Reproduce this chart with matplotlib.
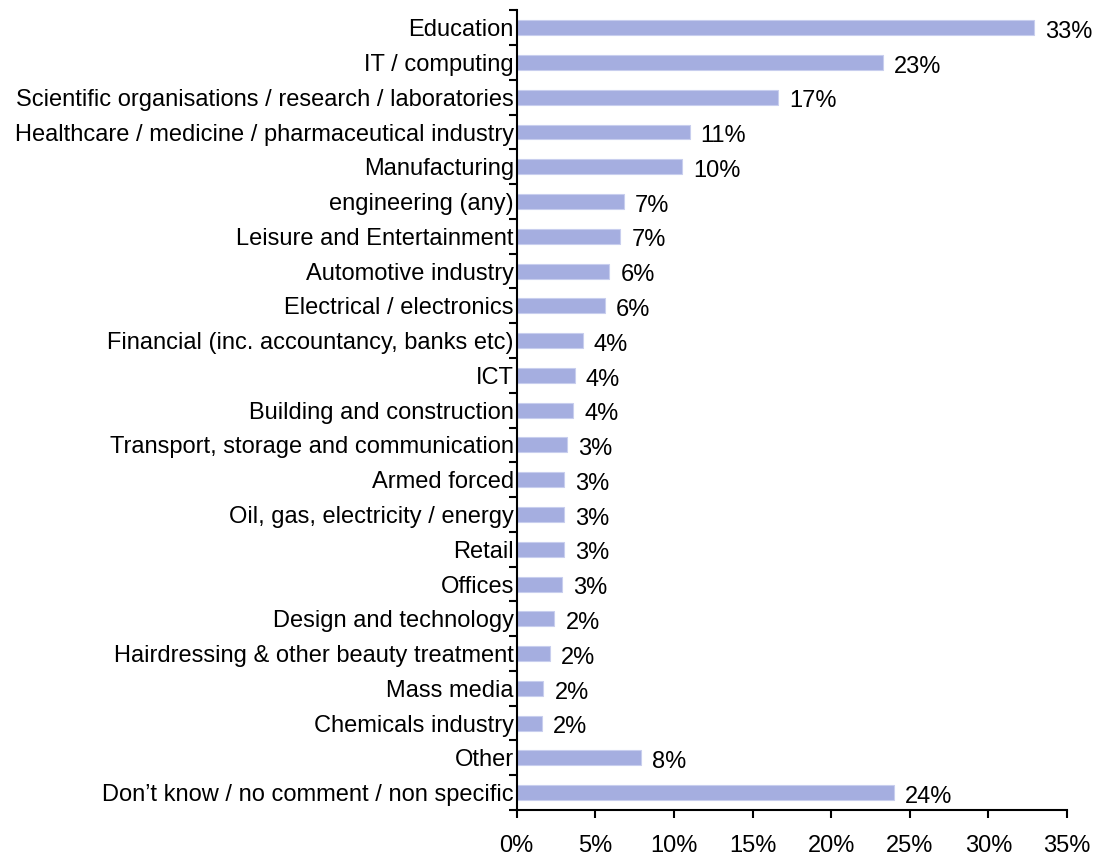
import numpy as np
import matplotlib.pyplot as plt
from matplotlib.ticker import FuncFormatter

plt.rcParams['font.family'] = ['Liberation Sans', 'DejaVu Sans']

sectors = ['Education', 'IT / computing',
           'Scientific organisations / research / laboratories',
           'Healthcare / medicine / pharmaceutical industry',
           'Manufacturing', 'engineering (any)', 'Leisure and Entertainment',
           'Automotive industry', 'Electrical / electronics',
           'Financial (inc. accountancy, banks etc)', 'ICT',
           'Building and construction',
           'Transport, storage and communication', 'Armed forced',
           'Oil, gas, electricity / energy', 'Retail', 'Offices',
           'Design and technology', 'Hairdressing & other beauty treatment',
           'Mass media', 'Chemicals industry', 'Other',
           'Don\u2019t know / no comment / non specific']
shares = [32.9, 23.3, 16.6, 11.0, 10.5, 6.8, 6.6, 5.9, 5.6, 4.2, 3.7, 3.6,
          3.2, 3.0, 3.0, 3.0, 2.9, 2.4, 2.1, 1.7, 1.6, 7.9, 24.0]

n = len(sectors)
pos = np.arange(n)

fig = plt.figure(figsize=(10.99, 8.59), dpi=100)
ax = fig.add_axes([0.470, 0.057, 0.501, 0.931])

ax.barh(pos, shares, height=0.43, color='#A5AEE0', edgecolor='#C8CEEE',
        linewidth=0.8)
for y, v in zip(pos, shares):
    ax.annotate('{:.0f}%'.format(v), (v, y), xytext=(8, -3),
                textcoords='offset points', va='center', ha='left',
                fontsize=17)

ax.set_ylim(n - 0.5, -0.5)
ax.set_xlim(0, 35)
ax.set_xticks(np.arange(0, 36, 5))
ax.xaxis.set_major_formatter(FuncFormatter(lambda x, p: '{:.0f}%'.format(x)))
ax.set_yticks(np.arange(n + 1) - 0.5)
ax.set_yticklabels([])
ax.set_yticks(pos, minor=True)
ax.set_yticklabels(sectors, minor=True)
ax.tick_params(axis='y', which='major', length=6, width=1.5, direction='out')
ax.tick_params(axis='y', which='minor', length=0, pad=2, labelsize=17)
ax.tick_params(axis='x', length=6, width=1.5, direction='out', pad=12,
               labelsize=17)
for s in ['top', 'right']:
    ax.spines[s].set_visible(False)
for s in ['left', 'bottom']:
    ax.spines[s].set_linewidth(1.5)

fig.savefig('out.png', dpi=100)
